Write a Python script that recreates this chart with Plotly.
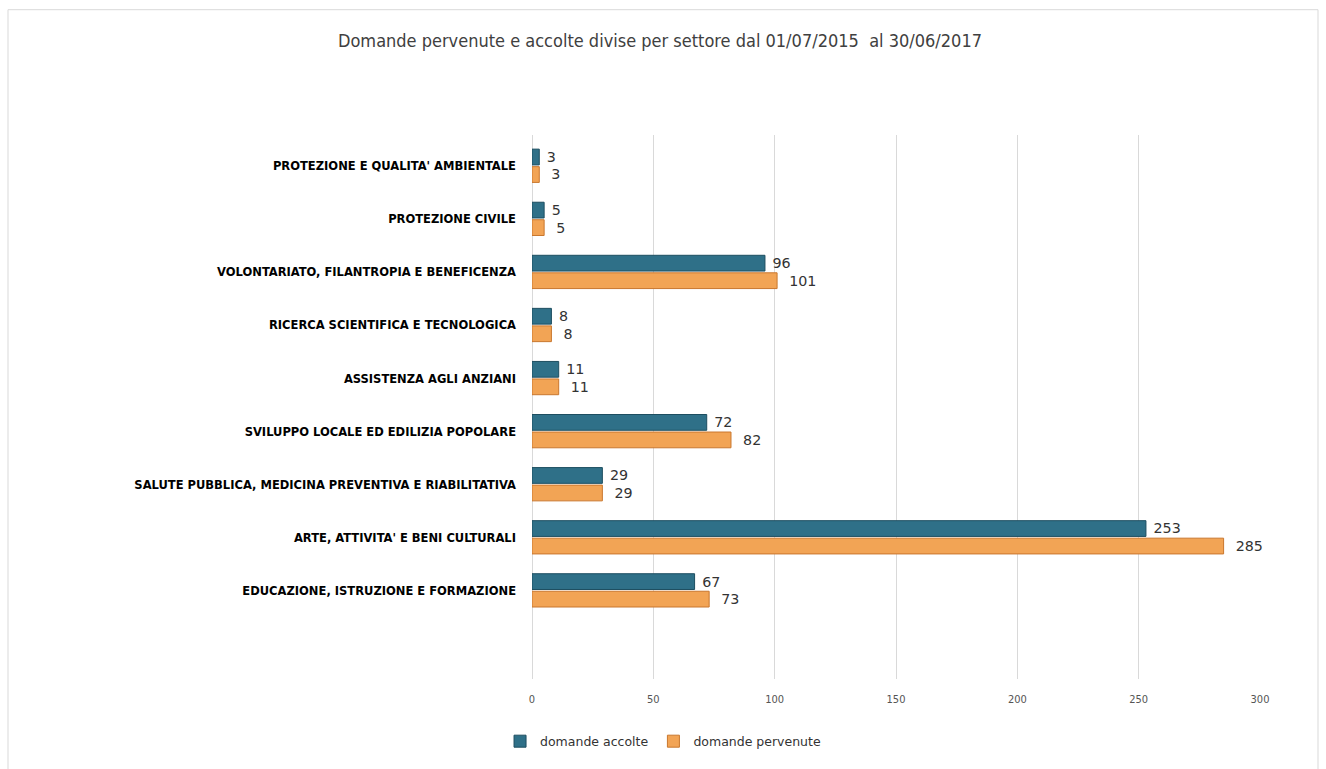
import plotly.graph_objects as go

categories = [
    "EDUCAZIONE, ISTRUZIONE E FORMAZIONE",
    "ARTE, ATTIVITA' E BENI CULTURALI",
    "SALUTE PUBBLICA, MEDICINA PREVENTIVA E RIABILITATIVA",
    "SVILUPPO LOCALE ED EDILIZIA POPOLARE",
    "ASSISTENZA AGLI ANZIANI",
    "RICERCA SCIENTIFICA E TECNOLOGICA",
    "VOLONTARIATO, FILANTROPIA E BENEFICENZA",
    "PROTEZIONE CIVILE",
    "PROTEZIONE E QUALITA' AMBIENTALE",
]
accolte = [67, 253, 29, 72, 11, 8, 96, 5, 3]
pervenute = [73, 285, 29, 82, 11, 8, 101, 5, 3]
x_ticks = [0, 50, 100, 150, 200, 250, 300]

title_text = "Domande pervenute e accolte divise per settore dal 01/07/2015  al 30/06/2017"

narrow = "Liberation Sans Narrow, Arial Narrow, DejaVu Sans Condensed, sans-serif"

fig = go.Figure()
fig.add_trace(go.Bar(
    y=categories, x=pervenute, orientation="h", name="domande pervenute",
    marker=dict(color="#F2A455", line=dict(color="#C9772E", width=1)),
    text=pervenute, texttemplate="  %{x}", textposition="outside", cliponaxis=False,
    textfont=dict(size=14.5, color="#333333", family="DejaVu Sans, sans-serif"),
    legendrank=2,
))
fig.add_trace(go.Bar(
    y=categories, x=accolte, orientation="h", name="domande accolte",
    marker=dict(color="#2F7088", line=dict(color="#1D4E60", width=1)),
    text=accolte, texttemplate=" %{x}", textposition="outside", cliponaxis=False,
    textfont=dict(size=14.5, color="#333333", family="DejaVu Sans, sans-serif"),
    legendrank=1,
))

fig.update_layout(
    width=1326, height=769,
    margin=dict(l=532, r=66, t=135, b=87),
    paper_bgcolor="white", plot_bgcolor="white",
    barmode="group", bargap=0.34, bargroupgap=0.1,
    title=dict(text=title_text, x=660 / 1326, xref="container", xanchor="center",
               y=1 - 41 / 769, yref="container", yanchor="middle",
               font=dict(family=narrow, size=18, color="#404040")),
    showlegend=True,
    legend=dict(orientation="h", x=0.18, xanchor="center", y=-0.115, yanchor="middle",
                font=dict(family="DejaVu Sans, sans-serif", size=12.5, color="#333333"),
                itemwidth=30, traceorder="normal"),
    xaxis=dict(range=[0, 300], tickvals=x_ticks, showgrid=True, gridcolor="#D9D9D9",
               gridwidth=1, zeroline=True, zerolinecolor="#D9D9D9", zerolinewidth=1,
               tickfont=dict(family=narrow, size=11, color="#555555"),
               ticks="", ticklabelstandoff=12, showline=False, fixedrange=True),
    yaxis=dict(type="category", categoryorder="array", categoryarray=categories,
               range=[-1.67, 8.58], showgrid=False, zeroline=False, ticks="",
               ticklabelstandoff=15,
               tickfont=dict(family=narrow, size=12.8, color="#000000", weight="bold"),
               fixedrange=True),
    shapes=[dict(type="rect", xref="paper", yref="paper",
                 x0=(8 - 532) / 728, x1=(1318 - 532) / 728,
                 y0=-0.3, y1=(682 - 9) / 547,
                 line=dict(color="#D9D9D9", width=1), fillcolor="rgba(0,0,0,0)", layer="below")],
)

fig.write_html("out.html")
